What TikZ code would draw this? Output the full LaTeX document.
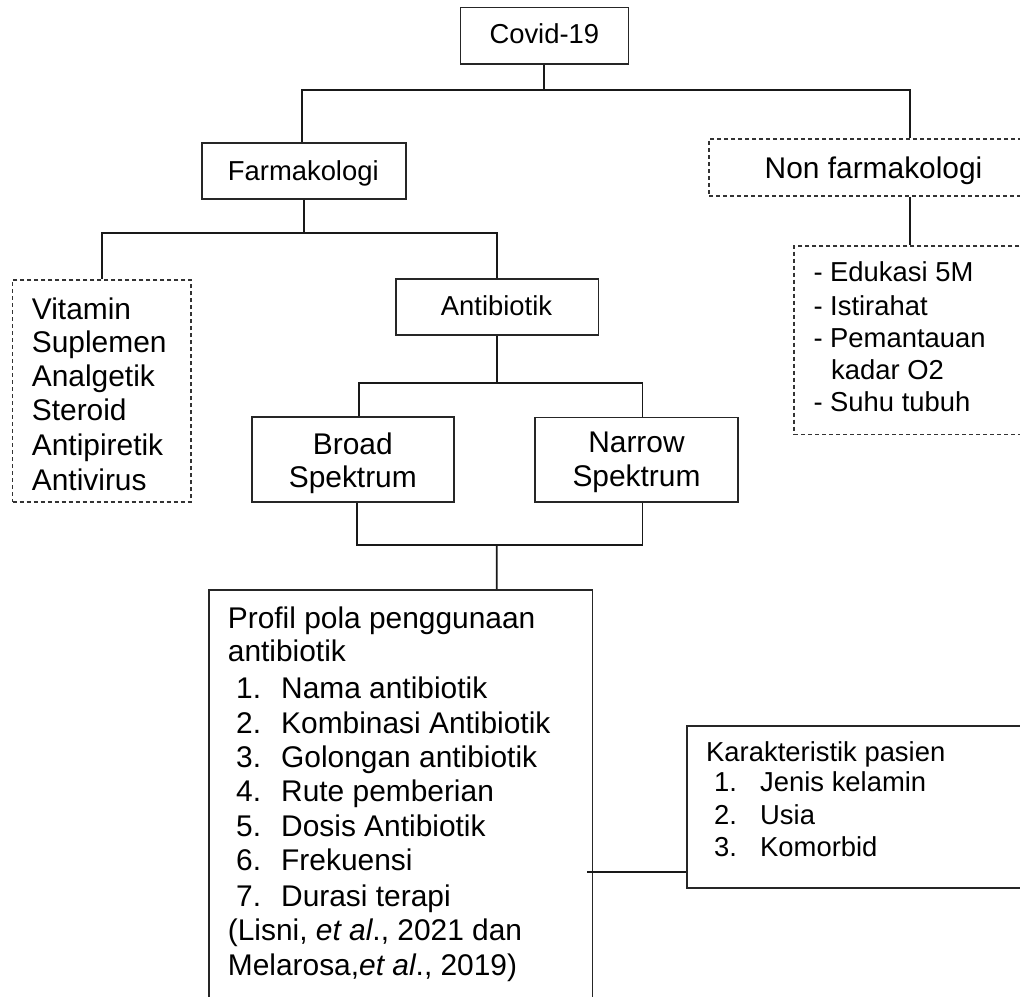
\documentclass[tikz,border=0pt]{standalone}
\usepackage{fontspec}
\setmainfont{Liberation Sans}
\begin{document}
\begin{tikzpicture}[x=1pt,y=-1pt]
\tikzset{
  box/.style={draw=black!85, line width=1.6pt, rectangle, inner sep=0pt},
  dbox/.style={draw=black!80, line width=1.1pt, dash pattern=on 4pt off 3pt, rectangle, inner sep=0pt},
  conn/.style={draw=black!90, line width=1.8pt},
  tS/.style={font=\fontsize{27.4}{32.5}\selectfont, inner sep=0pt, anchor=base west},
  tL/.style={font=\fontsize{29.9}{34.6}\selectfont, inner sep=0pt, anchor=base west},
}
\useasboundingbox (0,0) rectangle (1020,996);
\clip (0,0) rectangle (1020,996);
\fill[white] (0,0) rectangle (1020,996);

% boxes
\node[box, minimum width=168pt, minimum height=56.7pt] (covid) at (544.3,35.7) {};
\node[box, minimum width=203.7pt, minimum height=56pt] (farm) at (303.85,171) {};
\node[dbox, minimum width=331pt, minimum height=57pt] (nonfarm) at (874.5,167.5) {};
\node[dbox, minimum width=178.3pt, minimum height=222pt] (vit) at (101.85,391) {};
\node[box, minimum width=202.6pt, minimum height=56pt] (anti) at (497,307) {};
\node[box, minimum width=202.3pt, minimum height=85pt] (broad) at (352.85,459.5) {};
\node[box, minimum width=203pt, minimum height=84.7pt] (narrow) at (636.5,459.65) {};
\node[dbox, minimum width=246pt, minimum height=188.3pt] (edu) at (917,340.15) {};
\node[box, minimum width=383.3pt, minimum height=420pt] (prof) at (400.65,800) {};
\node[box, minimum width=353.3pt, minimum height=162pt] (kar) at (863.35,806.7) {};

% connectors
\coordinate (b1) at (544.3,90);
\draw[conn] (covid.south) -- (b1);
\draw[conn] ([xshift=-1.5pt]farm.north) |- (b1) -| ([xshift=35.5pt]nonfarm.north);
\coordinate (b2) at (303.85,232.7);
\draw[conn] (farm.south) -- (b2);
\draw[conn] (vit.north) |- (b2) -| (anti.north);
\coordinate (b3) at (497,383);
\draw[conn] (anti.south) -- (b3);
\draw[conn] ([xshift=6pt]broad.north) |- (b3) -| ([xshift=6pt]narrow.north);
\coordinate (b4) at (496.7,545);
\draw[conn] ([xshift=4pt]broad.south) |- (b4) -| ([xshift=6pt]narrow.south);
\draw[conn] (b4) -- ([xshift=96pt]prof.north);
\draw[conn] ([xshift=35.5pt]nonfarm.south) -- ([xshift=35.5pt]nonfarm.south |- edu.north);
\draw[conn] ([xshift=-6pt,yshift=-72.3pt]prof.east) coordinate (pk) -- (kar.west |- pk);

% texts
\node[tS] (tcovid) at (489.3,43.3) {Covid-19};
\node[tS] (tfarm) at (227.7,180) {Farmakologi};
\node[tL] (tnon) at (764.5,178.5) {Non farmakologi};
\node[tS] (tanti) at (440.7,315) {Antibiotik};

\node[tL] (v1) at (31.7,319.3) {Vitamin};
\node[tL] (v2) at (31.7,352.7) {Suplemen};
\node[tL] (v3) at (31.7,386.7) {Analgetik};
\node[tL] (v4) at (31.7,420.7) {Steroid};
\node[tL] (v5) at (31.7,455) {Antipiretik};
\node[tL] (v6) at (31.7,490) {Antivirus};

\node[tL, anchor=base] (br1) at (352.8,454) {Broad};
\node[tL, anchor=base] (br2) at (352.8,487.3) {Spektrum};
\node[tL, anchor=base] (na1) at (636.5,452.3) {Narrow};
\node[tL, anchor=base] (na2) at (636.5,486.7) {Spektrum};

\node[tS] (e1) at (813.3,281.7) {- Edukasi 5M};
\node[tS] (e2) at (813.3,315) {- Istirahat};
\node[tS] (e3) at (813.3,347.3) {- Pemantauan};
\node[tS] (e4) at (831,379.3) {kadar O2};
\node[tS] (e5) at (813.3,411.7) {- Suhu tubuh};

\node[tL] (p0) at (227.7,628.3) {Profil pola penggunaan};
\node[tL] (p0b) at (227.7,661.7) {antibiotik};
\node[tL] (p1) at (236,698.3) {\makebox[45pt][l]{1.}Nama antibiotik};
\node[tL] (p2) at (236,733.3) {\makebox[45pt][l]{2.}Kombinasi Antibiotik};
\node[tL] (p3) at (236,767.3) {\makebox[45pt][l]{3.}Golongan antibiotik};
\node[tL] (p4) at (236,801.7) {\makebox[45pt][l]{4.}Rute pemberian};
\node[tL] (p5) at (236,836) {\makebox[45pt][l]{5.}Dosis Antibiotik};
\node[tL] (p6) at (236,870.7) {\makebox[45pt][l]{6.}Frekuensi};
\node[tL] (p7) at (236,906) {\makebox[45pt][l]{7.}Durasi terapi};
\node[tL] (p8) at (227.7,940) {(Lisni, \textit{et al}., 2021 dan};
\node[tL] (p9) at (227.7,975) {Melarosa,\textit{et al}., 2019)};

\node[tS] (k0) at (706,761.7) {Karakteristik pasien};
\node[tS] (k1) at (714,791.7) {\makebox[46pt][l]{1.}Jenis kelamin};
\node[tS] (k2) at (714,824) {\makebox[46pt][l]{2.}Usia};
\node[tS] (k3) at (714,856.7) {\makebox[46pt][l]{3.}Komorbid};
\end{tikzpicture}
\end{document}
